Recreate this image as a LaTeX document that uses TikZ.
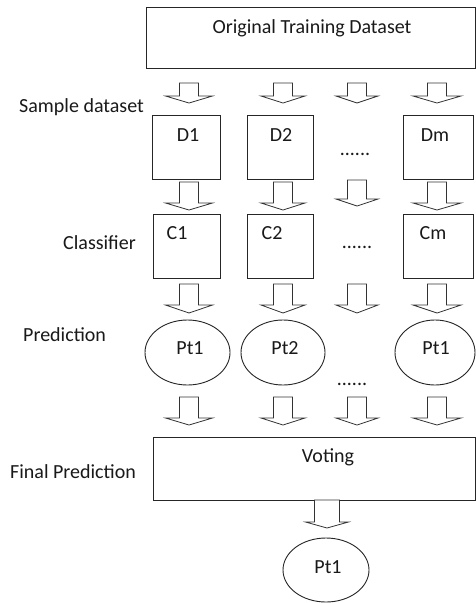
\documentclass[tikz,border=0pt]{standalone}
\usepackage{fontspec}
\setmainfont{Carlito}
\usetikzlibrary{shapes.geometric}
\tikzset{
  box/.style={draw=black!85, line width=0.9pt, rectangle, inner sep=0pt},
  oval/.style={draw=black!85, line width=0.9pt, ellipse, inner sep=0pt},
  txt/.style={font=\fontsize{20}{22}\selectfont, text=black!90, inner sep=0pt},
  barrowstyle/.style={draw=black!80, line width=0.8pt, line join=miter, fill=white}
}
\newcommand\barrow[5]{% cx, ytop, ybase, ytip, headhalf
  \draw[barrowstyle] (#1-9.5,#2) -- (#1+9.5,#2) -- (#1+9.5,#3) -- (#1+#5,#3) -- (#1,#4)
    -- (#1-#5,#3) -- (#1-9.5,#3) -- cycle;}
\begin{document}
\begin{tikzpicture}[x=1pt,y=-1pt]
\useasboundingbox (0,0) rectangle (475,603);
\fill[white] (0,0) rectangle (475,603);
% top box
\node[box, minimum width=329pt, minimum height=61pt] (orig) at (310.5,37.5) {};
\node[txt] (origt) at (312,28) {Original Training Dataset};
% row labels
\node[txt, anchor=west] (ls) at (19,107) {Sample dataset};
\node[txt, anchor=west] (lc) at (63,243) {Classifier};
\node[txt, anchor=west] (lp) at (23,335) {Prediction};
\node[txt, anchor=west] (lf) at (10,472) {Final Prediction};
% arrows row 1
\barrow{189}{83}{96}{103}{23.5}
\barrow{283}{83}{96}{103}{22}
\barrow{357}{83}{96}{103}{21}
\barrow{437}{83}{96}{103}{24}
% D boxes
\node[box, minimum width=68pt, minimum height=64pt] (D1) at (186,147) {};
\node[box, minimum width=66pt, minimum height=64pt] (D2) at (280,147) {};
\node[box, minimum width=70pt, minimum height=64pt] (Dm) at (438,147) {};
\node[txt] (D1t) at (188,135) {D1};
\node[txt] (D2t) at (281,135) {D2};
\node[txt] (Dmt) at (435,135) {Dm};
\node[txt] (dd1) at (355,154) {......};
% arrows row 2
\barrow{189}{182}{203}{210}{23.5}
\barrow{283}{182}{203}{210}{22}
\barrow{357}{180}{199}{206}{21}
\barrow{437}{182}{203}{210}{24}
% C boxes
\node[box, minimum width=67pt, minimum height=64pt] (C1) at (186.5,246) {};
\node[box, minimum width=66pt, minimum height=64pt] (C2) at (280,246) {};
\node[box, minimum width=70pt, minimum height=64pt] (Cm) at (438,246) {};
\node[txt] (C1t) at (177,233) {C1};
\node[txt] (C2t) at (272,233) {C2};
\node[txt] (Cmt) at (433,233) {Cm};
\node[txt] (dd2) at (357,247) {......};
% arrows row 3
\barrow{189}{284}{305}{313}{23.5}
\barrow{283}{284}{305}{313}{22}
\barrow{357}{284}{305}{313}{21}
\barrow{437}{284}{305}{313}{24}
% ellipses
\node[oval, minimum width=85pt, minimum height=65pt] (P1) at (187.5,352.5) {};
\node[oval, minimum width=84pt, minimum height=65pt] (P2) at (283,352.5) {};
\node[oval, minimum width=80pt, minimum height=65pt] (Pm) at (435,352.5) {};
\node[txt] (P1t) at (190,348) {Pt1};
\node[txt] (P2t) at (285,348) {Pt2};
\node[txt] (Pmt) at (436,348) {Pt1};
\node[txt] (dd3) at (352,384) {......};
% arrows row 4
\barrow{189}{397}{418}{425}{23.5}
\barrow{283}{397}{418}{425}{22}
\barrow{357}{397}{418}{425}{21}
\barrow{437}{397}{418}{425}{24}
% voting box
\node[box, minimum width=322pt, minimum height=63pt] (vote) at (314,468.5) {};
\node[txt] (votet) at (328,457) {Voting};
% final arrow
\draw[barrowstyle] (314.5,500) -- (339.5,500) -- (339.5,522) -- (348.5,522) -- (327,528)
  -- (305.5,522) -- (314.5,522) -- cycle;
% final ellipse
\node[oval, minimum width=86pt, minimum height=64pt] (final) at (326,570) {};
\node[txt] (finalt) at (328,567) {Pt1};
\end{tikzpicture}
\end{document}
